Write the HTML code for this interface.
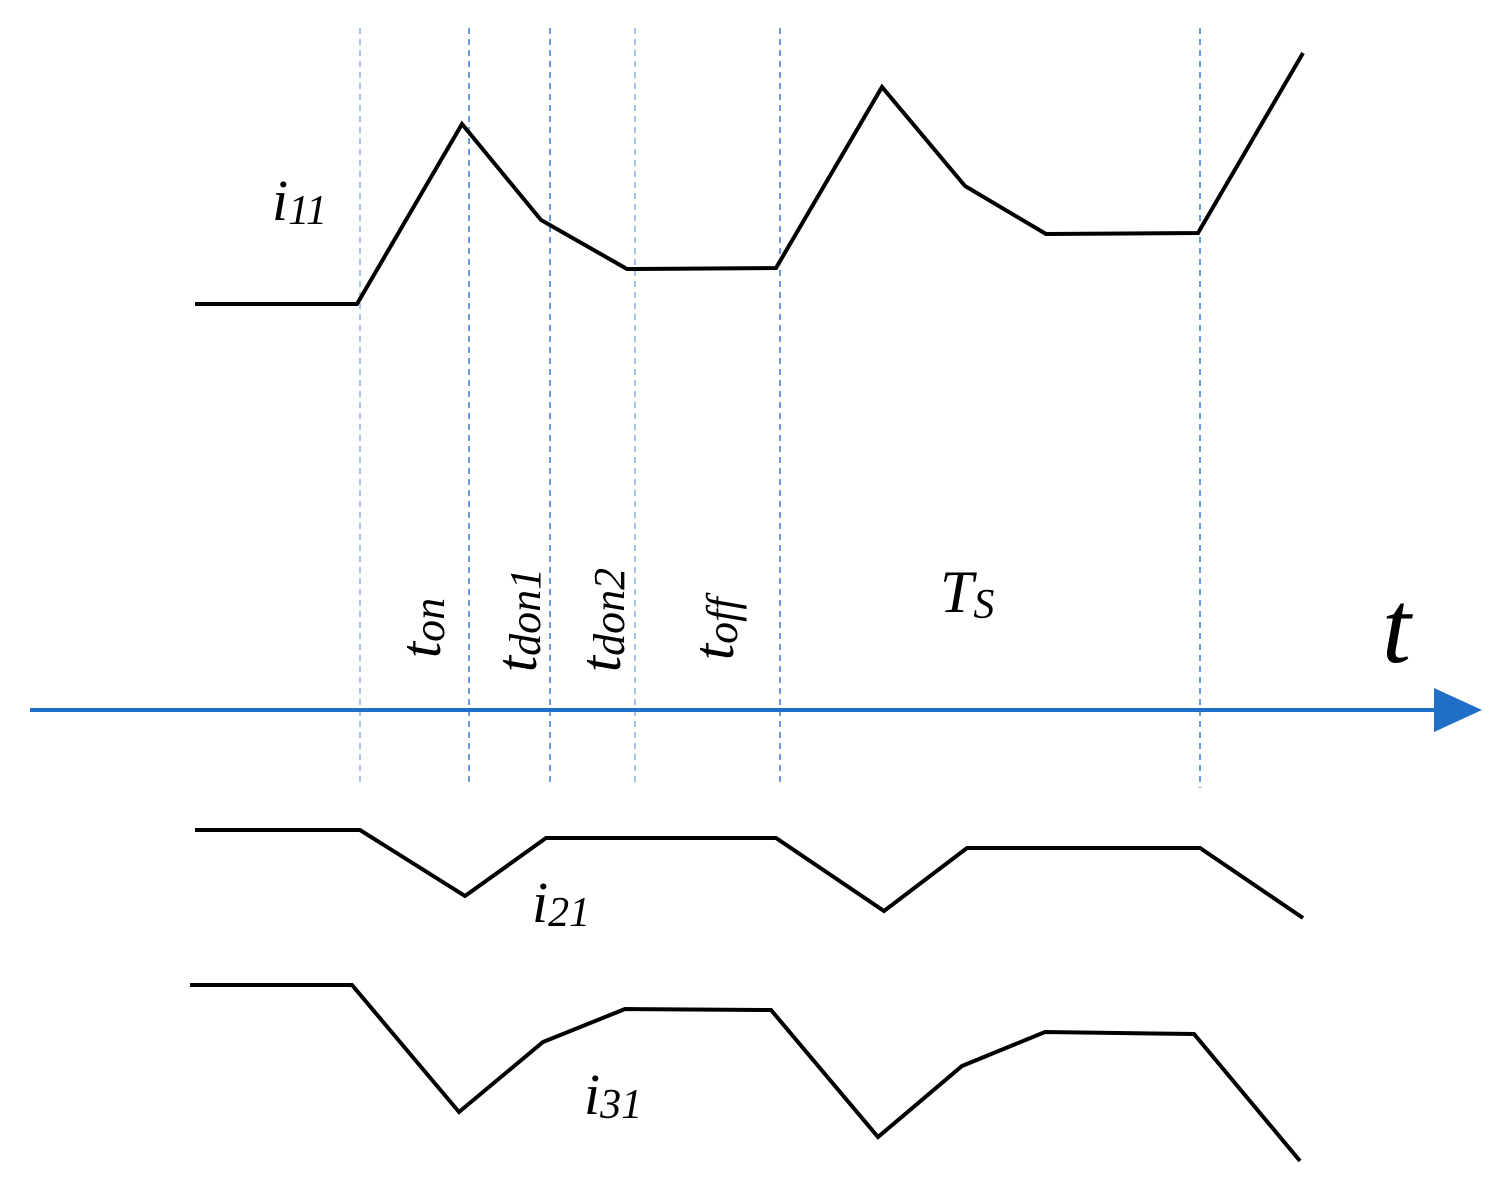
<!DOCTYPE html>
<html><head><meta charset="utf-8"><style>html,body{margin:0;padding:0;background:#fff}svg{display:block}
.s{font-family:"Liberation Serif","DejaVu Serif",serif;font-style:italic}</style></head>
<body>
<svg width="1507" height="1185" viewBox="0 0 1507 1185" xmlns="http://www.w3.org/2000/svg">
<g stroke="#3a7bd5" stroke-width="1.5" stroke-dasharray="6,5" fill="none">
<line x1="360" y1="28" x2="360" y2="782" stroke="#8ab4ea"/>
<line x1="469" y1="28" x2="469" y2="782"/>
<line x1="550" y1="28" x2="550" y2="782"/>
<line x1="635" y1="28" x2="635" y2="782" stroke="#8ab4ea"/>
<line x1="780" y1="28" x2="780" y2="782"/>
<line x1="1200" y1="28" x2="1200" y2="788"/>
</g>
<line x1="30" y1="710" x2="1440" y2="710" stroke="#1f6fc8" stroke-width="4"/>
<polygon points="1434,688 1482,710 1434,732" fill="#1f6fc8"/>
<g stroke="#000" stroke-width="4" fill="none" stroke-linejoin="miter">
<polyline points="195,304 357,304 462,124 541,220 627,269 776,268 882,87 965,186 1046,234 1198,233 1303,53"/>
<polyline points="195,830 360,830 465,896 546,838 776,838 884,911 967,848 1200,848 1303,918"/>
<polyline points="190,985 352,985 459,1112 543,1042 625,1009 771,1010 878,1137 962,1066 1045,1032 1194,1034 1300,1161"/>
</g>
<g class="s" fill="#000">
<text class="s" x="272" y="220" font-size="58">i<tspan font-size="42" dy="4">11</tspan></text>
<text class="s" x="532" y="922" font-size="58">i<tspan font-size="42" dy="4">21</tspan></text>
<text class="s" x="584" y="1114" font-size="58">i<tspan font-size="42" dy="4">31</tspan></text>
<text class="s" x="1382" y="662" font-size="104">t</text>
<text class="s" x="940" y="612" font-size="60">T<tspan font-size="42" dy="6">S</tspan></text>
<text class="s" transform="translate(440,658) rotate(-90)" font-size="58">t<tspan font-size="44" dy="4">on</tspan></text>
<text class="s" transform="translate(536,672) rotate(-90)" font-size="58">t<tspan font-size="44" dy="4">don1</tspan></text>
<text class="s" transform="translate(620,672) rotate(-90)" font-size="58">t<tspan font-size="44" dy="4">don2</tspan></text>
<text class="s" transform="translate(733,660) rotate(-90)" font-size="58">t<tspan font-size="44" dy="4">off</tspan></text>
</g>
</svg>
</body></html>
